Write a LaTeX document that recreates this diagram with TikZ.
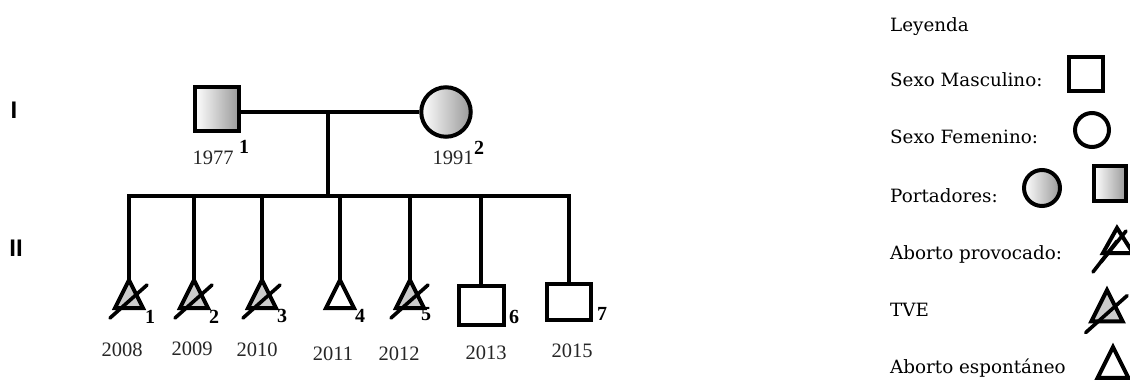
\documentclass[tikz,border=0pt]{standalone}
\usepackage{fontspec}
\setmainfont{Liberation Serif}
\newfontfamily\legfont{DejaVu Serif}
\newfontfamily\romfont{Liberation Sans}
\begin{document}
\begin{tikzpicture}[x=1pt,y=-1pt,
  ped/.style={line width=3.6pt},
  shp/.style={line width=4pt},
  strike/.style={line width=3.6pt, line cap=round},
  male/.style={shp, draw, rectangle, inner sep=0pt},
  female/.style={shp, draw, circle, inner sep=0pt},
  carrier/.style={left color=white, right color=gray!80},
  year/.style={font=\fontsize{20.5}{20.5}\selectfont, inner sep=0pt, text=black!85},
  idx/.style={font=\bfseries\fontsize{20}{20}\selectfont, inner sep=0pt},
  gen/.style={font=\romfont\bfseries\fontsize{24}{24}\selectfont, inner sep=0pt},
  leg/.style={font=\legfont\fontsize{18.3}{18.3}\selectfont, anchor=base west, inner sep=0pt},
  tri/.pic={\draw[shp] (0,0) -- (-14,28) -- (14,28) -- cycle;},
  tve/.pic={\filldraw[shp, fill=gray!40] (0,0) -- (-14,28) -- (14,28) -- cycle;
            \draw[strike] (-19,38) -- (18,5);}
]
\useasboundingbox (0,0) rectangle (1130,381);

% generation labels
\node[gen] (gI) at (14,110) {I};
\node[gen] (gII) at (16,248) {II};

% parents
\node[male, carrier, minimum size=44pt] (father) at (217,109) {};
\node[female, carrier, minimum size=49.5pt] (mother) at (446,112) {};
\node[year] (y1977) at (213,158) {1977};
\node[idx] (n1) at (244,147) {1};
\node[year] (y1991) at (453,158) {1991};
\node[idx] (n2) at (479,148) {2};

\coordinate (mate) at (328,112);
\coordinate (sib) at (328,196);
\draw[ped] (father.east |- mate) -- (mother.west);
\draw[ped] (mate) -- (sib);

% children
\coordinate (k1) at (129,280);
\coordinate (k2) at (194,280);
\coordinate (k3) at (262,280);
\coordinate (k4) at (340,280);
\coordinate (k5) at (410,280);
\node[male, minimum width=45pt, minimum height=39pt] (k6) at (481,305.5) {};
\node[male, minimum width=44pt, minimum height=36pt] (k7) at (569,302) {};

\draw[ped] (k1) -- (k1 |- sib) -- (k7.north |- sib) -- (k7.north);
\foreach \k in {k2,k3,k4,k5} \draw[ped] (\k |- sib) -- (\k);
\draw[ped] (k6.north |- sib) -- (k6.north);

\pic at (k1) {tve};
\pic at (k2) {tve};
\pic at (k3) {tve};
\pic at (k4) {tri};
\pic at (k5) {tve};

\node[idx] (i1) at (150,317) {1};
\node[idx] (i2) at (214,317) {2};
\node[idx] (i3) at (282,316) {3};
\node[idx] (i4) at (360,316) {4};
\node[idx] (i5) at (426,314) {5};
\node[idx] (i6) at (514,317) {6};
\node[idx] (i7) at (602,314) {7};

\node[year] (y1) at (122,350) {2008};
\node[year] (y2) at (192,349) {2009};
\node[year] (y3) at (257,350) {2010};
\node[year] (y4) at (333,354) {2011};
\node[year] (y5) at (399,354) {2012};
\node[year] (y6) at (486,353) {2013};
\node[year] (y7) at (572,351) {2015};

% legend
\node[leg] (lt0) at (890,31) {Leyenda};
\node[leg] (lt1) at (890,86) {Sexo Masculino:};
\node[leg] (lt2) at (890,143) {Sexo Femenino:};
\node[leg] (lt3) at (890,202) {Portadores:};
\node[leg] (lt4) at (890,259) {Aborto provocado:};
\node[leg] (lt5) at (890,316) {TVE};
\node[leg] (lt6) at (890,373) {Aborto espontáneo};

\node[male, minimum size=34pt] (lm) at (1086,73.5) {};
\node[female, minimum size=34pt] (lf) at (1092,130) {};
\node[female, carrier, minimum size=36pt] (lpc) at (1042,188) {};
\node[male, carrier, minimum width=32pt, minimum height=35pt] (lps) at (1110,183.5) {};

\draw[shp] (1117,228) -- (1103,253) -- (1133,253) -- cycle;
\draw[strike] (1093,272) -- (1117,241);
\draw[strike] (1101,262) -- (1126,231);

\pic[scale=1.12] at (1107,290) {tve};
\pic[scale=1.1] at (1113,347) {tri};
\end{tikzpicture}
\end{document}
